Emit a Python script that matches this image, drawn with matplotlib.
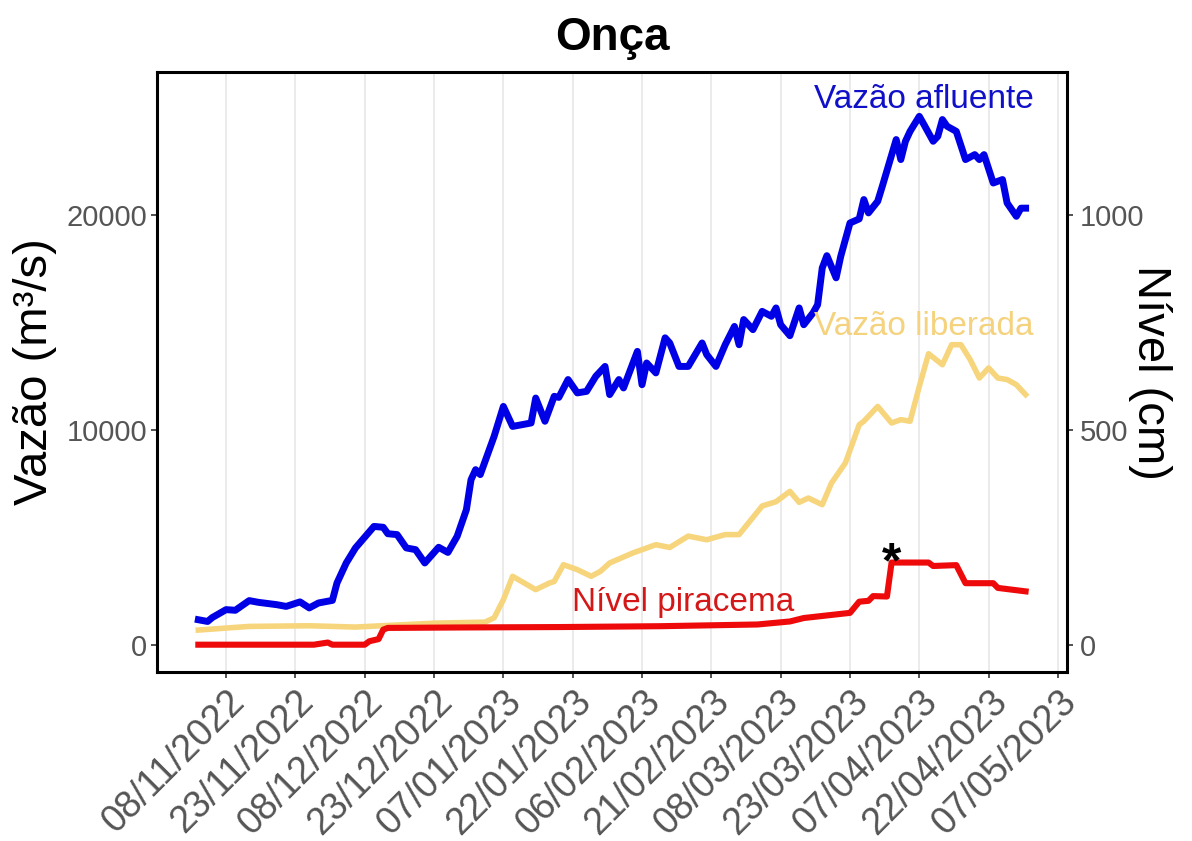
import datetime
import matplotlib
matplotlib.use("Agg")
import matplotlib.pyplot as plt
import matplotlib.dates as mdates

plt.rcParams['font.family'] = ['Liberation Sans', 'DejaVu Sans']

# Vazão afluente (m3/s)
afl_dates = ["2022-11-02", "2022-11-04", "2022-11-05", "2022-11-08", "2022-11-10", "2022-11-13",
             "2022-11-15", "2022-11-19", "2022-11-21", "2022-11-24", "2022-11-26", "2022-11-28",
             "2022-12-01", "2022-12-02", "2022-12-04", "2022-12-06", "2022-12-10", "2022-12-12",
             "2022-12-13", "2022-12-15", "2022-12-17", "2022-12-19", "2022-12-21", "2022-12-24",
             "2022-12-26", "2022-12-28", "2022-12-30", "2022-12-31", "2023-01-01", "2023-01-02",
             "2023-01-05", "2023-01-07", "2023-01-09", "2023-01-13", "2023-01-14", "2023-01-16",
             "2023-01-18", "2023-01-19", "2023-01-21", "2023-01-23", "2023-01-25", "2023-01-27",
             "2023-01-29", "2023-01-30", "2023-02-01", "2023-02-02", "2023-02-05", "2023-02-06",
             "2023-02-07", "2023-02-09", "2023-02-11", "2023-02-12", "2023-02-14", "2023-02-16",
             "2023-02-19", "2023-02-20", "2023-02-22", "2023-02-24", "2023-02-26", "2023-02-27",
             "2023-02-28", "2023-03-02", "2023-03-04", "2023-03-06", "2023-03-07", "2023-03-08",
             "2023-03-10", "2023-03-12", "2023-03-13", "2023-03-15", "2023-03-16", "2023-03-17",
             "2023-03-18", "2023-03-20", "2023-03-21", "2023-03-23", "2023-03-25", "2023-03-26",
             "2023-03-27", "2023-03-29", "2023-03-30", "2023-04-02", "2023-04-03", "2023-04-04",
             "2023-04-05", "2023-04-07", "2023-04-08", "2023-04-10", "2023-04-11", "2023-04-12",
             "2023-04-13", "2023-04-15", "2023-04-17", "2023-04-19", "2023-04-20", "2023-04-21",
             "2023-04-23", "2023-04-25", "2023-04-26", "2023-04-28", "2023-04-29", "2023-04-30"]
afl_vals = [1160, 1080, 1260, 1630, 1600, 2050,
            1970, 1860, 1780, 1990, 1710, 1940,
            2060, 2870, 3800, 4500, 5500, 5460,
            5160, 5120, 4500, 4420, 3800, 4530,
            4290, 5040, 6280, 7670, 8140, 7910,
            9690, 11080, 10150, 10310, 11470, 10390,
            11550, 11500, 12330, 11710, 11780, 12480,
            12940, 11630, 12330, 11940, 13640, 12090,
            13100, 12640, 14270, 14030, 12940, 12940,
            14030, 13490, 12940, 13950, 14800, 13950,
            15120, 14650, 15500, 15270, 15660, 14880,
            14370, 15660, 14880, 15430, 15810, 17520,
            18090, 17060, 18060, 19610, 19800, 20700,
            20080, 20620, 21320, 23490, 22560, 23410,
            23870, 24570, 24190, 23410, 23640, 24420,
            24110, 23870, 22560, 22790, 22560, 22790,
            21470, 21630, 20540, 19920, 20300, 20300]

# Vazão liberada (m3/s)
lib_dates = ["2022-11-02", "2022-11-13", "2022-11-26", "2022-12-06", "2022-12-23", "2023-01-03",
             "2023-01-05", "2023-01-07", "2023-01-09", "2023-01-14", "2023-01-17", "2023-01-18",
             "2023-01-20", "2023-01-23", "2023-01-26", "2023-01-28", "2023-01-30", "2023-02-04",
             "2023-02-09", "2023-02-12", "2023-02-16", "2023-02-20", "2023-02-24", "2023-02-27",
             "2023-03-04", "2023-03-07", "2023-03-10", "2023-03-12", "2023-03-14", "2023-03-17",
             "2023-03-19", "2023-03-22", "2023-03-25", "2023-03-26", "2023-03-29", "2023-04-01",
             "2023-04-03", "2023-04-05", "2023-04-07", "2023-04-09", "2023-04-12", "2023-04-14",
             "2023-04-16", "2023-04-18", "2023-04-20", "2023-04-22", "2023-04-24", "2023-04-26",
             "2023-04-28", "2023-04-30"]
lib_vals = [680, 850, 880, 820, 1000, 1050,
            1250, 2090, 3180, 2560, 2870, 2940,
            3720, 3490, 3180, 3410, 3800, 4265,
            4650, 4520, 5050, 4880, 5120, 5120,
            6450, 6650, 7130, 6620, 6820, 6510,
            7520, 8450, 10230, 10390, 11080, 10310,
            10465, 10390, 12010, 13530, 13020, 13950,
            13950, 13260, 12400, 12870, 12400, 12330,
            12090, 11630]

# Nível piracema (cm)
niv_dates = ["2022-11-02", "2022-11-27", "2022-11-30", "2022-12-01", "2022-12-08", "2022-12-09",
             "2022-12-11", "2022-12-12", "2022-12-13", "2022-12-28", "2023-01-19", "2023-02-10",
             "2023-03-03", "2023-03-10", "2023-03-13", "2023-03-23", "2023-03-25", "2023-03-27",
             "2023-03-28", "2023-03-31", "2023-04-01", "2023-04-09", "2023-04-10", "2023-04-15",
             "2023-04-17", "2023-04-23", "2023-04-24", "2023-04-30"]
niv_vals = [0, 0, 5, 0, 0, 8,
            13, 35, 39, 40, 41, 43,
            47, 54, 62, 74, 100, 102,
            113, 112, 191, 191, 183, 185,
            143, 143, 132, 124]

SCALE = 20  # vazão = nível * 20
tick_dates = [datetime.datetime(2022, 11, 8) + datetime.timedelta(days=15 * i) for i in range(13)]

to_dt = lambda lst: [datetime.datetime.fromisoformat(s) for s in lst]

fig = plt.figure(figsize=(11.92, 8.41), dpi=100)
ax = fig.add_axes([0.1317, 0.2010, 0.7634, 0.7134])

c_afl = "#0000E6"
c_lib = "#F6D57C"
c_niv = "#EE0A0A"

ax.plot(to_dt(lib_dates), lib_vals, color=c_lib, lw=4.0, solid_joinstyle='round', zorder=3)
ax.plot(to_dt(niv_dates), [v * SCALE for v in niv_vals], color=c_niv, lw=4.4,
        solid_joinstyle='round', zorder=4)
ax.plot(to_dt(afl_dates), afl_vals, color=c_afl, lw=5.0, solid_joinstyle='round', zorder=5)

ax.text(datetime.datetime(2023, 4, 8), 25350, "Vazão afluente", color="#1010C8",
        fontsize=24, ha='center', va='center', zorder=6)
ax.text(datetime.datetime(2023, 4, 8), 14790, "Vazão liberada", color="#F4D27E",
        fontsize=24, ha='center', va='center', zorder=6)
ax.text(datetime.datetime(2023, 2, 15), 1950, "Nível piracema", color="#D41818",
        fontsize=24, ha='center', va='center', zorder=6)
ax.text(datetime.datetime(2023, 4, 1), 3750, "*", color="black",
        fontsize=36, fontweight='bold', ha='center', va='center', zorder=6)

ax.margins(x=0.05)
ax.set_ylim(-1268, 26632)
ax.set_yticks([0, 10000, 20000])
ax.set_xticks(tick_dates)
ax.xaxis.set_major_formatter(mdates.DateFormatter('%d/%m/%Y'))
plt.setp(ax.get_xticklabels(), rotation=45, ha='right', rotation_mode='anchor')

ax.grid(axis='x', color='#EBEBEB', lw=1.4)
ax.set_axisbelow(True)
for s in ax.spines.values():
    s.set_linewidth(2.2)
    s.set_color('black')
ax.tick_params(axis='both', length=4, width=1.2, color='#333333', colors='#555555')
ax.tick_params(axis='x', labelsize=27, pad=4)
ax.tick_params(axis='y', labelsize=21, pad=3)

sec = ax.secondary_yaxis('right', functions=(lambda v: v / SCALE, lambda c: c * SCALE))
sec.set_yticks([0, 500, 1000])
sec.tick_params(length=4, width=1.2, color='#333333', colors='#555555', labelsize=21, pad=5)
sec.set_ylabel("Nível (cm)", fontsize=34, rotation=-90, labelpad=20)

ax.set_ylabel("Vazão (m³/s)", fontsize=34, labelpad=7)
ax.set_title("Onça", fontsize=33, fontweight='bold', pad=16)

fig.savefig("out.png", dpi=100)
